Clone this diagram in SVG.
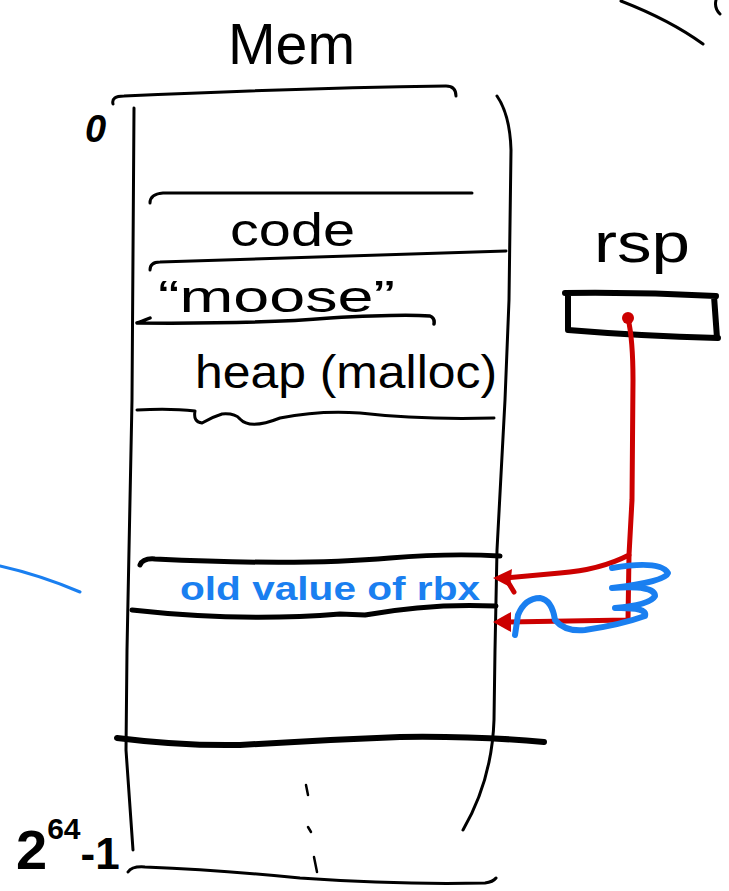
<svg xmlns="http://www.w3.org/2000/svg" width="729" height="891" viewBox="0 0 729 891">
<style>
.ink{fill:none;stroke:#000;stroke-linecap:round;stroke-linejoin:round}
.red{fill:none;stroke:#cc0000;stroke-width:5;stroke-linecap:round;stroke-linejoin:round}
.blue{fill:none;stroke:#1a7ff0;stroke-linecap:round;stroke-linejoin:round}
.t{font-family:"Liberation Sans",Arial,sans-serif;fill:#000}
</style>
<rect width="729" height="891" fill="#fff"/>
<!-- stray strokes -->
<path class="blue" stroke-width="3" d="M0,566 Q40,575 80,592"/>
<path class="ink" stroke-width="3" d="M621,1 Q670,20 703,44"/>
<path class="ink" stroke-width="3" d="M716,0 Q714,8 720,14"/>

<g id="memory">
  <text class="t" x="228" y="64" font-size="58" textLength="127" lengthAdjust="spacingAndGlyphs">Mem</text>
  <text class="t" x="85" y="142" font-size="38" font-style="italic" font-weight="bold">0</text>
  <path class="ink" stroke-width="3" d="M113,104 Q111,96 124,96 Q300,88 446,86 Q456,86 456,96"/>
  <path class="ink" stroke-width="3" d="M134,108 L132,400 L127,650 L126,750 L133,850"/>
  <path class="ink" stroke-width="3" d="M497,96 Q510,115 511,150 L509,300 L505,400 L497,550 L495,650 L494,720 Q492,780 463,830"/>
  <path class="ink" stroke-width="3" d="M128,872 Q132,866 145,867 Q220,870 300,878 Q400,885 485,883 Q493,882 496,878"/>
  <!-- code -->
  <path class="ink" stroke-width="3" d="M150,203 Q150,194 163,193 L472,193"/>
  <text class="t" x="230" y="246" font-size="46" textLength="125" lengthAdjust="spacingAndGlyphs">code</text>
  <path class="ink" stroke-width="3" d="M150,270 Q150,262 160,262 Q330,256 506,251"/>
  <!-- moose -->
  <text class="t" x="158" y="312" font-size="44" textLength="237" lengthAdjust="spacingAndGlyphs">“moose”</text>
  <path class="ink" stroke-width="3.5" d="M150,318 Q140,322 137,323 Q260,324 330,318 Q400,314 430,316 Q435,318 434,324"/>
  <!-- heap -->
  <text class="t" x="195" y="388" font-size="46" textLength="302" lengthAdjust="spacingAndGlyphs">heap (malloc)</text>
  <path class="ink" stroke-width="3" d="M137,410 Q170,408 195,411 Q193,422 202,423 Q212,417 222,414 Q235,413 240,419 Q250,430 280,418 Q320,410 360,413 Q420,420 494,418"/>
  <!-- old value of rbx -->
  <path class="ink" stroke-width="5" d="M140,565 Q143,558 155,559 Q300,566 390,558 Q450,553 500,556"/>
  <text x="180" y="600" font-family="Liberation Sans,Arial,sans-serif" font-weight="bold" font-size="33" fill="#1a7ff0" textLength="300" lengthAdjust="spacingAndGlyphs">old value of rbx</text>
  <path class="ink" stroke-width="5" d="M132,610 Q240,622 340,614 L365,615 Q430,603 496,606"/>
  <path class="ink" stroke-width="6" d="M117,738 Q180,746 240,745 Q320,740 400,737 Q480,736 544,742"/>
  <!-- dots -->
  <path class="ink" stroke-width="2.5" d="M306,785 L308,795 M308,827 L311,832 M314,857 L317,872"/>
  <!-- 2^64-1 -->
  <text class="t" x="16" y="869" font-size="56" font-weight="bold">2<tspan font-size="30" dy="-30">64</tspan><tspan font-size="44" dy="30">-1</tspan></text>
</g>

<g id="rsp">
  <text class="t" x="594" y="262" font-size="56" textLength="96" lengthAdjust="spacingAndGlyphs">rsp</text>
  <path class="ink" stroke-width="6" d="M565,293 Q640,292 716,296 M568,295 L568,330 Q640,336 718,338 M714,296 L717,338"/>
</g>

<g id="connectors">
  <circle cx="628" cy="318" r="6" fill="#cc0000"/>
  <path class="red" d="M628,318 Q633,340 633,380 L632,500 L629,555 Q600,570 560,573 L505,578"/>
  <path fill="#cc0000" d="M493,578 L512,569 L510,587 Z"/>
  <path class="red" stroke-width="4" d="M508,582 L514,592"/>
  <path class="red" d="M629,555 L628,620 L505,622"/>
  <path fill="#cc0000" d="M493,622 L511,612 L511,632 Z"/>
  <path class="blue" stroke-width="6" d="M612,568 Q660,560 668,573 Q665,582 612,588 Q655,585 655,596 Q650,605 615,608 Q648,607 645,616 Q620,625 585,630 Q565,632 555,620 Q552,600 540,598 Q525,598 518,615 L515,635"/>
</g>
</svg>
